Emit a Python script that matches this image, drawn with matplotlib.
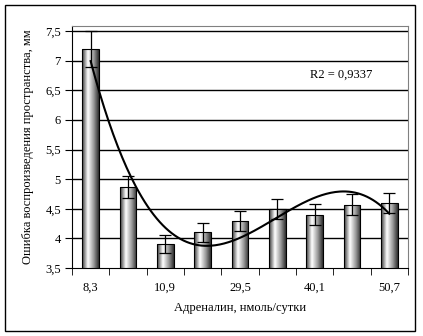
import numpy as np
import matplotlib
matplotlib.use("Agg")
import matplotlib.pyplot as plt
from matplotlib.colors import LinearSegmentedColormap
from matplotlib.patches import Rectangle

# data
values = [7.2, 4.87, 3.9, 4.1, 4.3, 4.5, 4.4, 4.57, 4.6]
errors = [0.3, 0.19, 0.15, 0.165, 0.17, 0.17, 0.175, 0.18, 0.17]
tick_pos = [0, 2, 4, 6, 8]
tick_labels = ['8,3', '10,9', '29,5', '40,1', '50,7']
y_ticks = [3.5, 4, 4.5, 5, 5.5, 6, 6.5, 7, 7.5]
y_tick_labels = ['3,5', '4', '4,5', '5', '5,5', '6', '6,5', '7', '7,5']
trend_degree = 3
r2_text = 'R2 = 0,9337'

plt.rcParams['font.family'] = ['Liberation Serif', 'DejaVu Serif']

fig = plt.figure(figsize=(4.23, 3.36), dpi=100)
ax = fig.add_axes([0.1702, 0.2024, 0.7943, 0.7202])

x = np.arange(len(values))
ax.set_xlim(-0.5, len(values) - 0.5)
ax.set_ylim(3.5, 7.585)

for yv in y_ticks[1:]:
    ax.axhline(yv, color='black', lw=1.0, zorder=1)

# cylinder-like grey gradient inside each bar
cmap = LinearSegmentedColormap.from_list(
    'bar', [(0, '#3a3a3a'), (0.35, '#ffffff'), (0.7, '#9a9a9a'), (1, '#2e2e2e')])
grad = np.linspace(0, 1, 64).reshape(1, -1)
bw = 0.44
for xi, v in zip(x, values):
    rect = Rectangle((xi - bw / 2, 3.5), bw, v - 3.5, facecolor='none',
                     edgecolor='black', lw=0.8, zorder=4)
    ax.add_patch(rect)
    im = ax.imshow(grad, cmap=cmap, aspect='auto', zorder=3,
                   extent=(xi - bw / 2, xi + bw / 2, 3.5, v))
    im.set_clip_path(rect)

ax.errorbar(x, values, yerr=errors, fmt='none', ecolor='black',
            elinewidth=0.9, capsize=4, capthick=0.9, zorder=5)

# polynomial trendline, as in the original
p = np.polyfit(x, values, trend_degree)
xs = np.linspace(x[0], x[-1], 200)
ax.plot(xs, np.polyval(p, xs), color='black', lw=1.5, zorder=6)

ax.text(0.708, 0.80, r2_text, transform=ax.transAxes, fontsize=9, va='center')

ax.set_yticks(y_ticks)
ax.set_yticklabels(y_tick_labels, fontsize=9)
ax.set_xticks(tick_pos)
ax.set_xticklabels(tick_labels, fontsize=9)
ax.set_xticks(np.arange(-0.5, len(values)), minor=True)
ax.tick_params(axis='x', which='major', length=0, pad=10)
ax.tick_params(axis='x', which='minor', length=5, direction='out')
ax.tick_params(axis='y', length=5, direction='out', pad=3)

for s in ['top', 'right']:
    ax.spines[s].set_color('#808080')
for s in ['left', 'bottom']:
    ax.spines[s].set_color('black')

ax.set_xlabel('Адреналин, нмоль/сутки', fontsize=9, labelpad=6)
ax.set_ylabel('Ошибка воспроизведения пространства, мм', fontsize=9, labelpad=8)

fig.patches.append(Rectangle((5 / 423, 5 / 336), 410 / 423, 326 / 336,
                             transform=fig.transFigure, fill=False,
                             edgecolor='black', lw=1.0))

fig.savefig('out.png', dpi=100)
